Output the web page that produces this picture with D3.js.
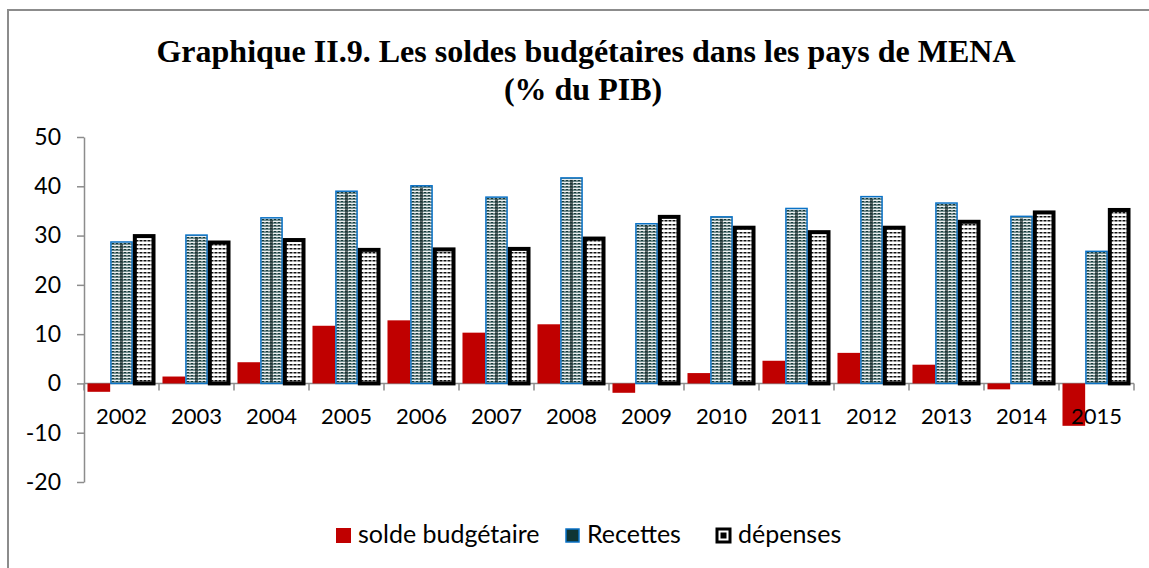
<!DOCTYPE html>
<html>
<head>
    <meta charset="utf-8">
    <title>Graphique II.9</title>
    <script src="https://d3js.org/d3.v7.min.js"></script>
    <style>
        body { margin: 0; background: white; }
        .lbl { font-family: Lato, "Open Sans", sans-serif; font-size: 22px; fill: black; }
        .ylbl { font-family: Lato, "Open Sans", sans-serif; font-size: 23px; fill: black; }
        .leg { font-family: Lato, "Open Sans", sans-serif; font-size: 25px; fill: black; }
        .title { font-family: "Liberation Serif", "Times New Roman", serif; font-weight: bold; font-size: 32px; }
    </style>
</head>
<body>
<script type="text/javascript">
    // data
    let years = ["2002","2003","2004","2005","2006","2007","2008","2009","2010","2011","2012","2013","2014","2015"];
    let solde    = [-1.7, 1.4, 4.3, 11.7, 12.8, 10.3, 12.0, -1.9, 2.1, 4.6, 6.2, 3.8, -1.2, -8.6];
    let recettes = [28.7, 30.1, 33.6, 39.0, 40.1, 37.8, 41.7, 32.4, 33.8, 35.5, 37.9, 36.6, 33.9, 26.8];
    let depenses = [30.3, 29.0, 29.5, 27.5, 27.6, 27.7, 29.8, 34.2, 32.0, 31.1, 32.0, 33.2, 35.1, 35.6];
    let seriesNames = ["solde budgétaire", "Recettes", "dépenses"];
    let yTicks = [-20, -10, 0, 10, 20, 30, 40, 50];

    let width = 1149, height = 568;
    let plotLeft = 84, plotRight = 1134, plotTop = 137, plotBottom = 482;

    let svg = d3.select("body").append("svg")
        .attr("width", width)
        .attr("height", height);

    // fill patterns
    let defs = svg.append("defs");
    let pRec = defs.append("pattern").attr("id", "pRec")
        .attr("patternUnits", "userSpaceOnUse").attr("width", 4).attr("height", 3);
    pRec.append("rect").attr("width", 4).attr("height", 3).attr("fill", "#eef0f0");
    pRec.append("rect").attr("x", 0).attr("y", 0).attr("width", 3).attr("height", 1).attr("fill", "#163a3a");
    pRec.append("rect").attr("x", 0).attr("y", 1).attr("width", 4).attr("height", 1).attr("fill", "#6f8d8d");

    let pDep = defs.append("pattern").attr("id", "pDep")
        .attr("patternUnits", "userSpaceOnUse").attr("width", 4).attr("height", 4);
    pDep.append("rect").attr("width", 4).attr("height", 4).attr("fill", "white");
    pDep.append("rect").attr("x", 0).attr("y", 0).attr("width", 3).attr("height", 1.5).attr("fill", "#111");

    // outer frame
    svg.append("rect")
        .attr("x", 8).attr("y", 10)
        .attr("width", width + 20).attr("height", height + 20)
        .attr("fill", "none").attr("stroke", "#8c8c8c").attr("stroke-width", 2);

    // title
    let title = svg.append("text").attr("class", "title").attr("text-anchor", "middle");
    title.append("tspan").attr("x", 586).attr("y", 62).text("Graphique II.9. Les soldes budgétaires dans les pays de MENA");
    title.append("tspan").attr("x", 583).attr("y", 100).text("(% du PIB)");

    let x = d3.scaleBand().domain(years).range([plotLeft, plotRight]).paddingInner(0.093).paddingOuter(0.0465);
    let xs = d3.scaleBand().domain(seriesNames).range([0, x.bandwidth()]);
    let y = d3.scaleLinear().domain([-20, 50]).range([plotBottom, plotTop]);

    // y axis
    let yAxis = svg.append("g")
        .attr("transform", `translate(${plotLeft},0)`)
        .call(d3.axisLeft(y).tickValues(yTicks).tickFormat(d => String(d))
            .tickSize(7).tickSizeOuter(0).tickPadding(16));
    yAxis.select(".domain").attr("stroke", "#8c8c8c").attr("stroke-width", 1.5);
    yAxis.selectAll(".tick line").attr("stroke", "#8c8c8c").attr("stroke-width", 1.5);
    yAxis.selectAll(".tick text").attr("class", "ylbl").attr("fill", "black");

    // category axis at zero
    let bounds = years.map((d, i) => i === 0 ? plotLeft : x(d) - x.step() * x.paddingInner() / 2).concat([plotRight]);
    let cat = svg.append("g");
    cat.append("line")
        .attr("x1", plotLeft).attr("x2", plotRight)
        .attr("y1", y(0)).attr("y2", y(0))
        .attr("stroke", "#8c8c8c").attr("stroke-width", 1.5);
    cat.selectAll("line.tk").data(bounds).join("line").attr("class", "tk")
        .attr("x1", d => d).attr("x2", d => d)
        .attr("y1", y(0)).attr("y2", y(0) + 7)
        .attr("stroke", "#8c8c8c").attr("stroke-width", 1.5);

    // bars
    let rows = years.map((yr, i) => ({ yr: yr, vals: [solde[i], recettes[i], depenses[i]] }));

    let groups = svg.append("g").selectAll("g").data(rows).join("g")
        .attr("transform", d => `translate(${x(d.yr)},0)`);

    groups.append("rect")
        .attr("x", xs(seriesNames[0]))
        .attr("width", xs.bandwidth())
        .attr("y", d => y(Math.max(0, d.vals[0])))
        .attr("height", d => Math.abs(y(d.vals[0]) - y(0)))
        .attr("fill", "#c00000");

    groups.append("rect")
        .attr("x", xs(seriesNames[1]) + 0.75)
        .attr("width", xs.bandwidth() - 1.5)
        .attr("y", d => y(d.vals[1]))
        .attr("height", d => y(0) - y(d.vals[1]))
        .attr("fill", "url(#pRec)")
        .attr("stroke", "#0a72c6").attr("stroke-width", 1.5);
    groups.append("line")
        .attr("x1", xs(seriesNames[1]) + xs.bandwidth() / 2)
        .attr("x2", xs(seriesNames[1]) + xs.bandwidth() / 2)
        .attr("y1", d => y(d.vals[1]) + 2)
        .attr("y2", y(0) - 1)
        .attr("stroke", "#1d3030").attr("stroke-width", 3).attr("opacity", 0.7);

    groups.append("rect")
        .attr("x", xs(seriesNames[2]) + 2)
        .attr("width", xs.bandwidth() - 4)
        .attr("y", d => y(d.vals[2]) + 2)
        .attr("height", d => y(0) - y(d.vals[2]) - 2)
        .attr("fill", "url(#pDep)")
        .attr("stroke", "black").attr("stroke-width", 4);

    // year labels
    svg.append("g").selectAll("text").data(years).join("text")
        .attr("class", "lbl")
        .attr("x", d => x(d) + x.bandwidth() / 2)
        .attr("y", 424)
        .attr("text-anchor", "middle")
        .text(d => d);

    // legend
    let legX = [336, 565, 716];
    let leg = svg.append("g").selectAll("g").data(seriesNames).join("g")
        .attr("transform", (d, i) => `translate(${legX[i]},528)`);
    leg.append("rect")
        .attr("x", (d, i) => i === 0 ? 0 : 1)
        .attr("y", (d, i) => i === 0 ? 0 : 1)
        .attr("width", (d, i) => i === 0 ? 15 : 13)
        .attr("height", (d, i) => i === 0 ? 15 : 13)
        .attr("fill", (d, i) => ["#c00000", "#0f3535", "white"][i])
        .attr("stroke", (d, i) => ["none", "#0a72c6", "black"][i])
        .attr("stroke-width", (d, i) => i === 2 ? 3 : 1.5);
    leg.filter((d, i) => i === 2).append("rect")
        .attr("x", 4.5).attr("y", 4.5).attr("width", 6).attr("height", 6).attr("fill", "black");
    leg.append("text")
        .attr("class", "leg")
        .attr("x", 22)
        .attr("y", 15)
        .text(d => d);
</script>
</body>
</html>
